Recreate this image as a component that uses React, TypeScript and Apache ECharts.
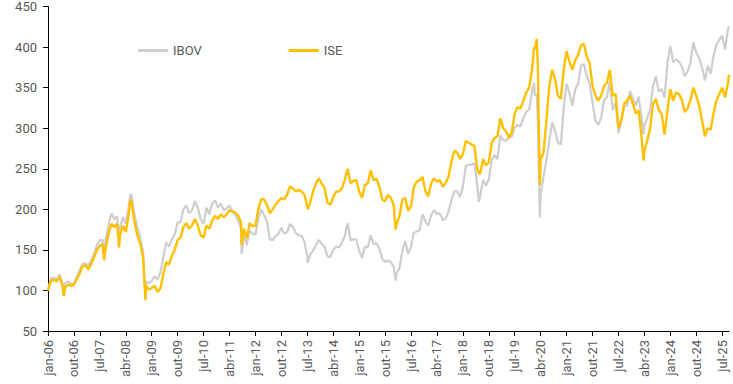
import React, { useEffect, useRef } from "react";
import * as echarts from "echarts";

const monthNames = ["jan", "fev", "mar", "abr", "mai", "jun", "jul", "ago", "set", "out", "nov", "dez"];
const startYear = 2006;

const tickLabels = [
  "jan-06", "out-06", "jul-07", "abr-08", "jan-09", "out-09", "jul-10", "abr-11", "jan-12",
  "out-12", "jul-13", "abr-14", "jan-15", "out-15", "jul-16", "abr-17", "jan-18", "out-18",
  "jul-19", "abr-20", "jan-21", "out-21", "jul-22", "abr-23", "jan-24", "out-24", "jul-25",
];

// Month-start values (jan-06 ... set-25), base 100
const ibovMonthly = [
  100, 115, 116, 113, 120, 109, 109, 111, 108, 109, 117, 125,
  133, 133, 131, 137, 146, 156, 162, 162, 163, 180, 195, 188,
  191, 178, 190, 182, 203, 217, 194, 178, 166, 148, 111, 109,
  112, 117, 114, 122, 141, 159, 154, 163, 169, 184, 184, 200,
  205, 195, 199, 210, 202, 188, 182, 202, 194, 207, 211, 202,
  207, 199, 201, 205, 197, 193, 186, 176, 169, 156, 174, 170,
  169, 188, 200, 193, 185, 163, 162, 167, 170, 177, 170, 172,
  182, 178, 171, 168, 167, 160, 142, 144, 149, 156, 162, 157,
  154, 142, 141, 150, 154, 153, 159, 167, 183, 162, 163, 163,
  149, 140, 154, 153, 168, 157, 158, 152, 139, 135, 137, 135,
  129, 121, 128, 149, 161, 145, 154, 171, 173, 174, 194, 185,
  180, 193, 199, 194, 195, 187, 188, 197, 211, 222, 222, 215,
  228, 253, 255, 255, 257, 229, 217, 236, 229, 237, 261, 267,
  262, 291, 285, 285, 288, 290, 301, 304, 302, 313, 320, 323,
  345, 340, 311, 218, 240, 261, 284, 307, 297, 282, 280, 325,
  355, 343, 328, 348, 355, 377, 379, 364, 355, 331, 309, 304,
  313, 335, 338, 358, 322, 332, 294, 308, 327, 328, 346, 336,
  328, 339, 313, 304, 312, 323, 352, 364, 345, 348, 338, 380,
  401, 381, 385, 382, 376, 364, 370, 381, 406, 393, 387, 375,
  359, 377, 367, 389, 403, 409, 414, 397, 422,
];

const iseMonthly = [
  100, 112, 113, 111, 117, 106, 104, 107, 106, 107, 114, 121,
  130, 131, 126, 133, 141, 150, 155, 157, 152, 170, 182, 178,
  182, 168, 180, 172, 193, 208, 185, 168, 158, 140, 106, 101,
  103, 106, 98, 102, 120, 135, 132, 143, 150, 162, 165, 178,
  183, 176, 180, 188, 180, 168, 165, 180, 176, 186, 192, 188,
  194, 190, 194, 199, 197, 196, 192, 184, 176, 164, 183, 179,
  180, 200, 213, 212, 205, 195, 200, 206, 210, 214, 212, 218,
  228, 226, 222, 224, 222, 218, 204, 208, 222, 232, 238, 232,
  226, 208, 206, 215, 222, 222, 226, 236, 250, 232, 235, 236,
  222, 214, 230, 232, 248, 236, 238, 228, 212, 210, 218, 214,
  205, 182, 192, 212, 214, 198, 204, 228, 234, 236, 240, 222,
  216, 232, 238, 234, 236, 228, 232, 240, 258, 272, 270, 262,
  268, 284, 282, 280, 278, 250, 244, 262, 254, 258, 282, 288,
  290, 312, 300, 296, 288, 296, 318, 326, 324, 334, 344, 350,
  372, 398, 378, 262, 270, 310, 352, 372, 360, 340, 336, 372,
  395, 382, 372, 384, 390, 402, 404, 388, 380, 352, 340, 334,
  340, 352, 356, 372, 340, 342, 300, 310, 330, 334, 340, 330,
  318, 322, 290, 272, 285, 300, 330, 336, 322, 318, 292, 322,
  348, 334, 344, 342, 335, 320, 324, 335, 350, 340, 328, 310,
  290, 300, 298, 318, 334, 342, 350, 338, 355,
];

// Intra-month extremes and last observation
const extraDates = [
  "2006-06-14", "2007-08-16", "2008-01-22", "2008-05-20", "2008-10-27", "2011-08-08",
  "2013-07-05", "2016-01-21", "2018-06-18", "2020-01-23", "2020-02-20", "2020-03-23",
  "2023-03-23", "2025-09-12",
];
const extraIbov = [101, 145, 160, 219, 88, 145, 134, 112, 209, 356, 342, 190, 292, 426];
const extraIse = [93, 137, 153, 212, 89, 156, 200, 175, 244, 400, 410, 230, 260, 366];

const FONT = "Roboto, 'Noto Sans', sans-serif";
const TEXT = "#595959";

function dateToMonthIndex(s: string): number {
  const [y, m, d] = s.split("-").map(Number);
  const days = new Date(y, m, 0).getDate();
  return (y - startYear) * 12 + (m - 1) + (d - 1) / days;
}

function labelToMonthIndex(l: string): number {
  const [mn, yy] = l.split("-");
  return (2000 + Number(yy) - startYear) * 12 + monthNames.indexOf(mn);
}

function buildSeries(monthly: number[], extra: number[]): [number, number][] {
  const pts: [number, number][] = monthly.map((v, i) => [i, v]);
  extraDates.forEach((d, i) => pts.push([dateToMonthIndex(d), extra[i]]));
  pts.sort((a, b) => a[0] - b[0]);
  return pts;
}

export default function App() {
  const ref = useRef<HTMLDivElement>(null);
  useEffect(() => {
    document.body.style.margin = "0";
    if (!ref.current) return;
    const chart = echarts.init(ref.current, undefined, { renderer: "svg" });
    const tickVals = tickLabels.map(labelToMonthIndex);
    const xMax = dateToMonthIndex(extraDates[extraDates.length - 1]);
    const labelFor = (v: number) => {
      const r = Math.round(v);
      const i = tickVals.indexOf(r);
      return i >= 0 && Math.abs(v - r) < 1e-6 ? tickLabels[i] : "";
    };
    chart.setOption({
      animation: false,
      grid: { left: 48, right: 4, top: 6, bottom: 53, containLabel: false },
      legend: {
        left: 133,
        top: 39,
        itemWidth: 30,
        itemHeight: 3,
        itemGap: 87,
        icon: "rect",
        textStyle: { fontFamily: FONT, fontSize: 13, color: TEXT },
        data: ["IBOV", "ISE"],
      },
      xAxis: {
        type: "value",
        min: 0,
        max: xMax,
        interval: 9,
        axisLine: { show: true, lineStyle: { color: "#000", width: 1 } },
        axisTick: { show: true, length: 5, lineStyle: { color: "#000" }, customValues: tickVals },
        splitLine: { show: false },
        axisLabel: {
          rotate: 90,
          margin: 9,
          fontFamily: FONT,
          fontSize: 13,
          color: TEXT,
          customValues: tickVals,
          formatter: labelFor,
          hideOverlap: false,
        },
      },
      yAxis: {
        type: "value",
        min: 50,
        max: 450,
        interval: 50,
        axisLine: { show: true, lineStyle: { color: "#000", width: 1 } },
        axisTick: { show: true, length: 5, lineStyle: { color: "#000" } },
        splitLine: { show: false },
        axisLabel: { margin: 11, fontFamily: FONT, fontSize: 13, color: TEXT },
      },
      series: [
        {
          name: "IBOV",
          type: "line",
          data: buildSeries(ibovMonthly, extraIbov),
          showSymbol: false,
          symbol: "none",
          silent: true,
          lineStyle: { color: "#CFCDCD", width: 2.2 },
          itemStyle: { color: "#CFCDCD" },
        },
        {
          name: "ISE",
          type: "line",
          data: buildSeries(iseMonthly, extraIse),
          showSymbol: false,
          symbol: "none",
          silent: true,
          lineStyle: { color: "#FFC000", width: 2.4 },
          itemStyle: { color: "#FFC000" },
        },
      ],
    });
    return () => chart.dispose();
  }, []);
  return <div ref={ref} style={{ width: 733, height: 384 }} />;
}
